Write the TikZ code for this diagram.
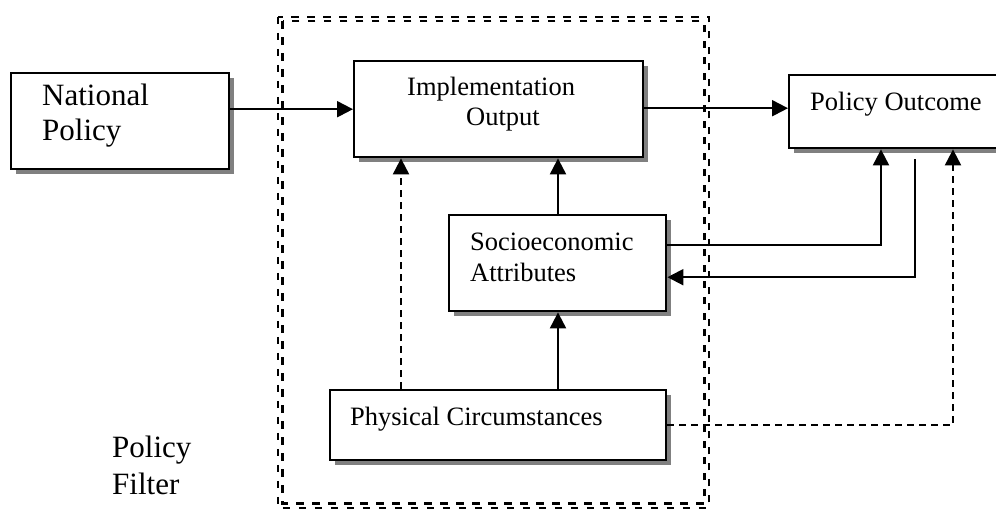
\documentclass[tikz,border=0pt]{standalone}
\usepackage{fontspec}
\setmainfont{Liberation Serif}
\usetikzlibrary{arrows.meta,shadows}
\begin{document}
\begin{tikzpicture}[x=1pt,y=-1pt,
  box/.style={draw, line width=2.4pt, fill=white, inner sep=0pt,
    drop shadow={shadow xshift=5pt, shadow yshift=-5pt, fill=black!50, opacity=1}},
  txt/.style={anchor=base west, inner sep=0pt, font=\fontsize{26.5}{30}\selectfont},
  bigtxt/.style={anchor=base west, inner sep=0pt, font=\fontsize{31}{35}\selectfont},
  conn/.style={line width=2.1pt, -{Triangle[length=16pt,width=16pt]}},
  dconn/.style={conn, dash pattern=on 7pt off 5pt},
  filterline/.style={line width=2.3pt, dash pattern=on 7.5pt off 8.5pt}]
\useasboundingbox (0,0) rectangle (996,512);
\clip (0,0) rectangle (996,512);

% boxes
\node[box, anchor=north west, minimum width=218pt, minimum height=96pt] (np) at (10,72) {};
\node[box, anchor=north west, minimum width=289pt, minimum height=96pt] (io) at (353,60) {};
\node[box, anchor=north west, minimum width=222pt, minimum height=73pt] (po) at (788,74) {};
\node[box, anchor=north west, minimum width=217pt, minimum height=96pt] (se) at (448,214) {};
\node[box, anchor=north west, minimum width=336pt, minimum height=70pt] (pc) at (329,389) {};

% texts
\node[bigtxt] (npa) at (42,105) {National};
\node[bigtxt] (npb) at (42,140) {Policy};
\node[txt] (ioa) at (407,95) {Implementation};
\node[txt] (iob) at (466,125) {Output};
\node[txt] (poa) at (810,110) {Policy Outcome};
\node[txt] (sea) at (470,250) {Socioeconomic};
\node[txt] (seb) at (470,281) {Attributes};
\node[txt] (pca) at (350,425) {Physical Circumstances};
\node[bigtxt] (pfa) at (112,457) {Policy};
\node[bigtxt] (pfb) at (112,494) {Filter};

% helper coordinates
\coordinate (pcdash) at ([xshift=72pt]pc.north west);
\coordinate (seout) at ([yshift=18pt]se.east);
\coordinate (sein) at ([yshift=-14pt]se.east);
\coordinate (poinA) at ([xshift=93pt]po.south west);
\coordinate (pooutB) at ([xshift=127pt,yshift=-10pt]po.south west);
\coordinate (poinC) at ([xshift=165pt]po.south west);

% connectors
\draw[conn] (np.east |- io.west) -- (io.west);
\draw[conn] ([yshift=1pt]io.east) -- ([yshift=1pt]io.east -| po.west);
\draw[conn] (se.north -| 558,0) -- (io.south -| 558,0);
\draw[conn] (pc.north -| 558,0) -- (se.south -| 558,0);
\draw[dconn] (pcdash) -- (pcdash |- io.south);
\draw[conn] (seout) -| (poinA);
\draw[conn] (pooutB) |- (sein);
\draw[dconn] (pc.east) -| (poinC);

% policy filter (double dashed frame)
\draw[filterline] (278,16.8) rectangle (709.2,508);
\draw[filterline] (282.6,21.2) rectangle (704.6,503.6);
\end{tikzpicture}
\end{document}
